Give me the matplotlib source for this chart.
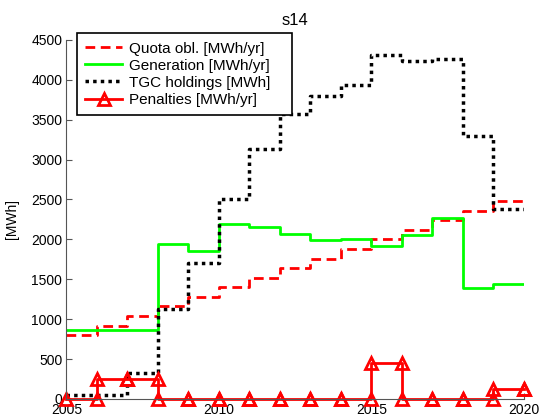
import matplotlib
matplotlib.use("Agg")
import matplotlib.pyplot as plt
import numpy as np

plt.rcParams['font.family'] = ['Liberation Sans', 'DejaVu Sans']

years = [2005, 2006, 2007, 2008, 2009, 2010, 2011, 2012, 2013, 2014,
         2015, 2016, 2017, 2018, 2019, 2020]
quota = [800, 920, 1040, 1160, 1280, 1400, 1520, 1640, 1760, 1880,
         2000, 2120, 2240, 2360, 2480, 2480]
generation = [860, 860, 860, 1945, 1855, 2195, 2158, 2067, 1990, 2000,
              1915, 2053, 2262, 1395, 1440, 1440]
tgc = [50, 50, 330, 1130, 1700, 2500, 3138, 3567, 3802, 3929,
       4310, 4240, 4265, 3295, 2378, 2378]
penalties = [0, 255, 255, 0, 0, 0, 0, 0, 0, 0,
             455, 0, 0, 0, 120, 120]

labels = ['Quota obl. [MWh/yr]', 'Generation [MWh/yr]',
          'TGC holdings [MWh]', 'Penalties [MWh/yr]']


def stair_vertices(x, y):
    xs, ys = [x[0]], [y[0]]
    for i in range(1, len(x)):
        xs += [x[i], x[i]]
        ys += [y[i - 1], y[i]]
    return np.array(xs), np.array(ys)


fig = plt.figure(figsize=(5.45, 4.16), dpi=100)
ax = fig.add_axes([0.122, 0.041, 0.839, 0.863])

ax.step(years, quota, where='post', color='#ff0000', lw=2,
        ls=(0, (3.5, 2)), label=labels[0])
ax.step(years, generation, where='post', color='#00ff00', lw=2,
        label=labels[1])
ax.step(years, tgc, where='post', color='black', lw=2.5,
        ls=(0, (1, 1.2)), label=labels[2])
px, py = stair_vertices(years, penalties)
ax.plot(px, py, color='#ff0000', lw=2, marker='^', ms=8,
        mfc='none', mew=2, label=labels[3], clip_on=False)

ax.set_xlim(2005, 2020)
ax.set_ylim(0, 4500)
ax.set_xticks([2005, 2010, 2015, 2020])
ax.set_yticks(np.arange(0, 4501, 500))
for s in ['top', 'right']:
    ax.spines[s].set_visible(False)
for s in ['left', 'bottom']:
    ax.spines[s].set_color('#555555')
ax.tick_params(direction='in', length=4, labelsize=10, color='#555555')
ax.tick_params(axis='y', pad=3)
ax.tick_params(axis='x', pad=3)
ax.set_ylabel('[MWh]', fontsize=10, labelpad=9)
ax.set_title('s14', fontsize=12, pad=11)

x0, x1, y0, y1 = 77 / 545, 292 / 545, 1 - 112.3 / 416, 1 - 33.3 / 416
leg = ax.legend(loc='upper left', bbox_to_anchor=(x0, y0, x1 - x0, y1 - y0),
                bbox_transform=fig.transFigure, mode='expand', fontsize=11,
                handlelength=2.4, labelspacing=0.2, borderpad=0.55,
                fancybox=False, framealpha=1, edgecolor='black',
                handletextpad=0.48, borderaxespad=0)
leg.get_frame().set_linewidth(1.2)

fig.savefig('out.png', dpi=100)
